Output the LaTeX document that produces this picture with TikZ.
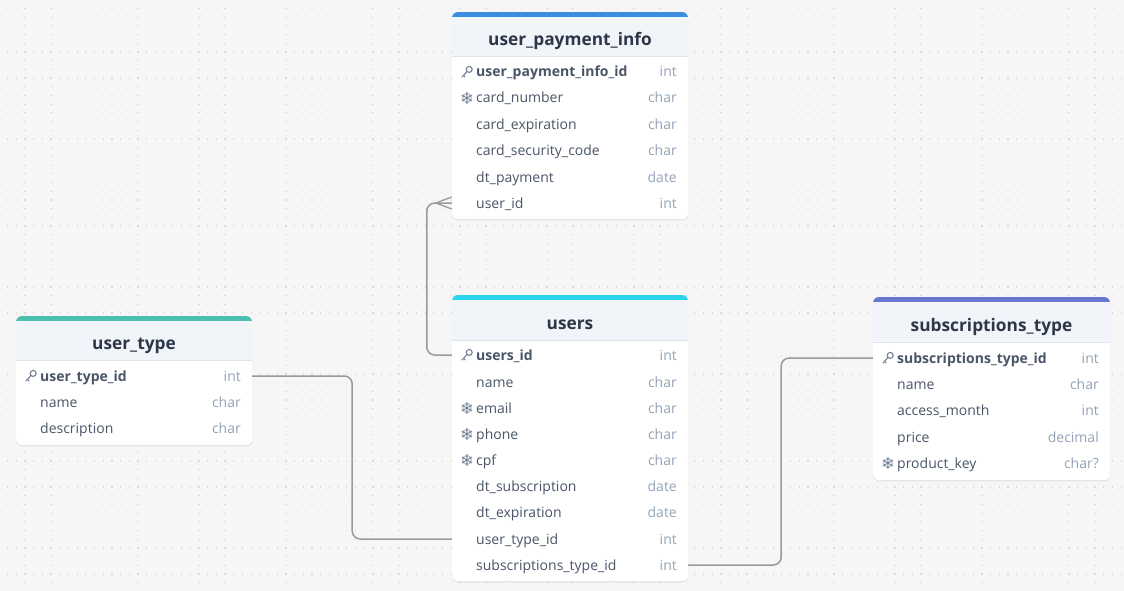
\documentclass[tikz,border=0pt]{standalone}
\usepackage{fontspec}
\setmainfont{Open Sans}
\newfontfamily\symfont{DejaVu Sans}
\usetikzlibrary{shadows,calc}
\definecolor{bgc}{HTML}{F6F6F6}
\definecolor{dotc}{HTML}{DADADA}
\definecolor{headc}{HTML}{F1F4F8}
\definecolor{sepc}{HTML}{DCE3EC}
\definecolor{titlec}{HTML}{2D3748}
\definecolor{namec}{HTML}{4A5568}
\definecolor{typec}{HTML}{94A3B8}
\definecolor{iconc}{HTML}{718096}
\definecolor{connc}{HTML}{9A9A9A}
\definecolor{barblue}{HTML}{3B8EDE}
\definecolor{barcyan}{HTML}{2BD4EC}
\definecolor{barteal}{HTML}{4BBFAF}
\definecolor{barindigo}{HTML}{6875D1}
\tikzset{
 card/.style={fill=white, draw=none, rounded corners=6pt, inner sep=0, anchor=north west,
   drop shadow={opacity=0.16, shadow xshift=0pt, shadow yshift=-1.2pt}},
 rowbox/.style={inner sep=0, minimum height=26, draw=none},
 titletext/.style={font=\fontsize{17.3}{20}\selectfont\bfseries, text=titlec, inner sep=0},
 fname/.style={font=\fontsize{14}{16}\selectfont, text=namec, inner sep=0},
 ftype/.style={font=\fontsize{14}{16}\selectfont, text=typec, inner sep=0},
 conn/.style={draw=connc, line width=1.5, rounded corners=8},
 keyline/.style={draw=iconc, line width=1.1, line cap=round},
 snowtext/.style={font=\symfont\fontsize{16.5}{17}\selectfont, text=iconc, inner sep=0},
}
% #1 name #2 left #3 right #4 top #5 header bottom #6 bottom #7 bar colour #8 title
\newcommand\dbtab[8]{%
 \node[card, minimum width={#3-#2}, minimum height={#6-#4}] (#1) at (#2,#4) {};
 \begin{scope}
  \clip[rounded corners=6] (#2,#4) rectangle (#3,#6);
  \fill[headc] (#2,#4) rectangle (#3,#5);
  \fill[#7] (#2,#4) rectangle (#3,{#4+5});
 \end{scope}
 \draw[sepc, line width=0.8] (#2,#5) -- (#3,#5);
 \node[titletext, anchor=base] (#1title) at ({(#2+#3)/2},{(#4+#5)/2+11.5}) {#8};
}
% #1 name #2 left #3 right #4 y #5 field #6 type
\newcommand\dbrow[6]{%
 \node[rowbox, minimum width={#3-#2}] (#1) at ({(#2+#3)/2},#4) {};
 \node[fname, anchor=base west] (#1n) at ({#2+24},{#4+5}) {#5};
 \node[ftype, anchor=base east] (#1t) at ({#3-11},{#4+5}) {#6};
}
\newcommand\keyicn[2]{%
 \draw[keyline] ({#1+17.2},{#2-2.6}) circle (3);
 \draw[keyline] ({#1+15},{#2-0.4}) -- ({#1+10},{#2+5});
 \draw[keyline] ({#1+11.6},{#2+3.4}) -- ({#1+13.1},{#2+4.9});
}
\newcommand\snowicn[3]{%
 \node[snowtext] (#1) at ({#2+15},{#3+0.3}) {❄};
}
\begin{document}
\begin{tikzpicture}[x=1pt,y=-1pt]
\useasboundingbox (0,0) rectangle (1124,591);
\fill[bgc] (0,0) rectangle (1124,591);
\foreach \i in {0,...,129}{\foreach \j in {0,...,67}{%
  \fill[dotc] ({7.5+\i*8.7-0.6},{8.5+\j*8.7-0.6}) rectangle ++(1.2,1.2);}}

% user_payment_info
\dbtab{upi}{452}{688}{12}{56}{219}{barblue}{user\_payment\_info}
\dbrow{upi1}{452}{688}{72}{\bfseries user\_payment\_info\_id}{int}
\dbrow{upi2}{452}{688}{98}{card\_number}{char}
\dbrow{upi3}{452}{688}{124}{card\_expiration}{char}
\dbrow{upi4}{452}{688}{150}{card\_security\_code}{char}
\dbrow{upi5}{452}{688}{177}{dt\_payment}{date}
\dbrow{upi6}{452}{688}{203}{user\_id}{int}
\keyicn{452}{72}
\snowicn{upi2s}{452}{98}

% users
\dbtab{us}{452}{688}{295}{340}{581}{barcyan}{users}
\dbrow{us1}{452}{688}{355}{\bfseries users\_id}{int}
\dbrow{us2}{452}{688}{382}{name}{char}
\dbrow{us3}{452}{688}{408}{email}{char}
\dbrow{us4}{452}{688}{434}{phone}{char}
\dbrow{us5}{452}{688}{460}{cpf}{char}
\dbrow{us6}{452}{688}{486}{dt\_subscription}{date}
\dbrow{us7}{452}{688}{512}{dt\_expiration}{date}
\dbrow{us8}{452}{688}{539}{user\_type\_id}{int}
\dbrow{us9}{452}{688}{565}{subscriptions\_type\_id}{int}
\keyicn{452}{355}
\snowicn{us3s}{452}{408}
\snowicn{us4s}{452}{434}
\snowicn{us5s}{452}{460}

% user_type
\dbtab{ut}{16}{252}{316}{360}{445}{barteal}{user\_type}
\dbrow{ut1}{16}{252}{376}{\bfseries user\_type\_id}{int}
\dbrow{ut2}{16}{252}{402}{name}{char}
\dbrow{ut3}{16}{252}{428}{description}{char}
\keyicn{16}{376}

% subscriptions_type
\dbtab{st}{873}{1110}{297}{342}{480}{barindigo}{subscriptions\_type}
\dbrow{st1}{873}{1110}{358}{\bfseries subscriptions\_type\_id}{int}
\dbrow{st2}{873}{1110}{384}{name}{char}
\dbrow{st3}{873}{1110}{410}{access\_month}{int}
\dbrow{st4}{873}{1110}{437}{price}{decimal}
\dbrow{st5}{873}{1110}{463}{product\_key}{char?}
\keyicn{873}{358}
\snowicn{st5s}{873}{463}

% connectors
\draw[conn] (upi6.west) -- ++(-25,0) |- (us1.west);
\draw[connc, line width=1.3] ($(upi6.west)+(-16,0)$) -- ($(upi6.west)+(0,-6)$)
  ($(upi6.west)+(-16,0)$) -- ($(upi6.west)+(0,6)$);
\draw[conn] (ut1.east) -- ++(100,0) |- (us8.west);
\draw[conn] (us9.east) -- ++(93,0) |- (st1.west);
\end{tikzpicture}
\end{document}
